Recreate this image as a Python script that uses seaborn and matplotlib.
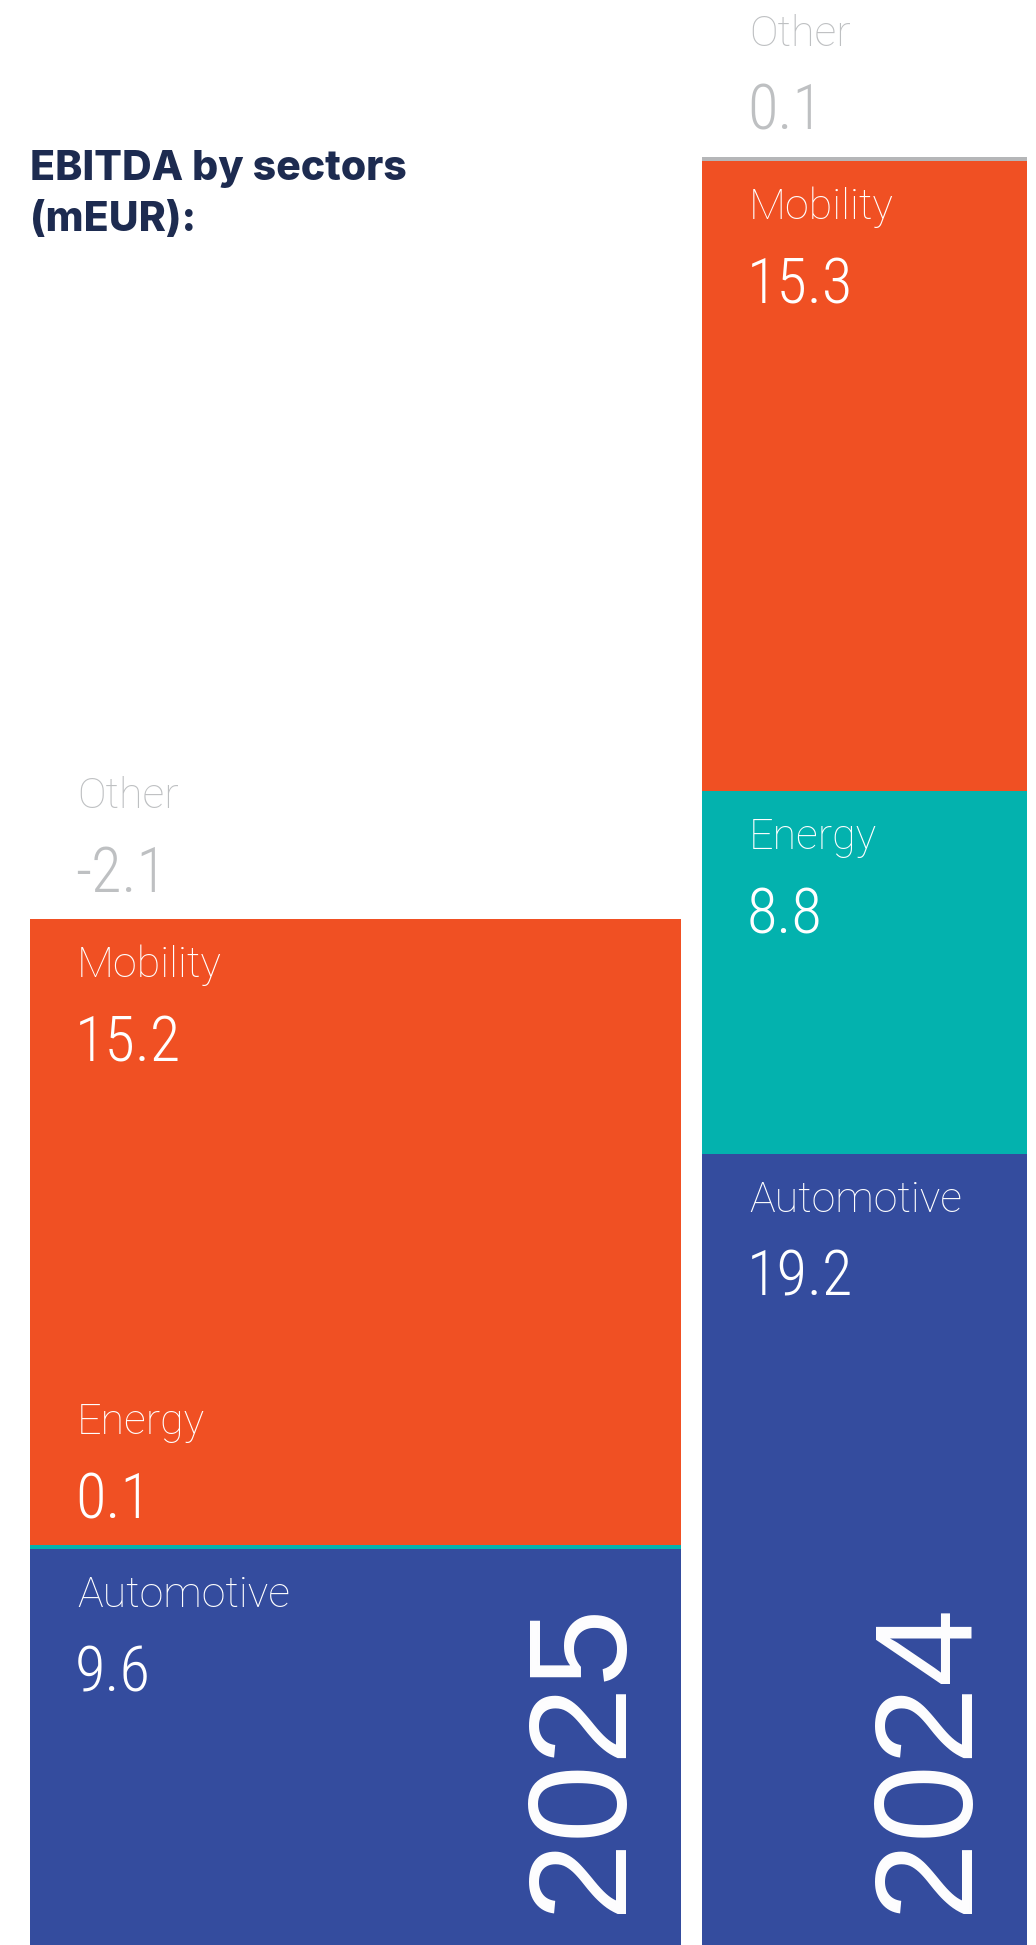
import numpy as np
import pandas as pd
import matplotlib
matplotlib.use("Agg")
import matplotlib.pyplot as plt
import seaborn as sns

# EBITDA by sector, mEUR
years = ["2025", "2024"]
sectors = ["Automotive", "Energy", "Mobility", "Other"]
automotive = [9.6, 19.2]
energy = [0.1, 8.8]
mobility = [15.2, 15.3]
other = [-2.1, 0.1]

sector_colors = ["#344C9E", "#03B2AE", "#F05023", "#B5B6B8"]
title_text = "EBITDA by sectors\n(mEUR):"

sns.set_theme(style="white")
plt.rcParams["font.family"] = ["Liberation Sans", "DejaVu Sans"]

W, H, DPI = 1036, 1945, 100
PX_PER_UNIT = 41.2

df = pd.DataFrame({"Automotive": automotive, "Energy": energy,
                   "Mobility": mobility, "Other": other}, index=years)
palette = dict(zip(sectors, sns.color_palette(sector_colors)))

fig = plt.figure(figsize=(W / DPI, H / DPI), dpi=DPI)
fig.patch.set_facecolor("white")
ax = fig.add_axes([0, 0, 1, 1])
ax.set_xlim(0, W)
ax.set_ylim(0, H / PX_PER_UNIT)
ax.axis("off")

# column geometry (pixels): left edge and width of each year's stack
bar_left = [30, 702]
bar_width = [651, 325]

LABEL_FONT = dict(family=["Roboto", "Liberation Sans", "DejaVu Sans"], weight="light", size=31)
VALUE_FONT = dict(family=["Roboto Condensed", "Liberation Sans Narrow", "Roboto", "DejaVu Sans"],
                  weight="light", size=45)
GREY_TEXT = "#BEC0C2"

for i, year in enumerate(years):
    bottom = 0.0
    for j, sector in enumerate(sectors):
        v = df.loc[year, sector]
        h = max(v, 0.0)
        ax.bar(bar_left[i], h, width=bar_width[i], bottom=bottom, align="edge",
               color=palette[sector], linewidth=0)
        top = bottom + h
        is_last = j == len(sectors) - 1
        thin = h * PX_PER_UNIT < 60
        if thin:
            name_dy, val_dy = 111, 27
            color = GREY_TEXT if is_last else "white"
        else:
            name_dy, val_dy = -58, -142
            color = "white"
        ax.annotate(sector, xy=(bar_left[i], top), xytext=(47, name_dy),
                    textcoords="offset pixels", ha="left", va="baseline",
                    color=color, **LABEL_FONT)
        ax.annotate(f"{v:.1f}", xy=(bar_left[i], top), xytext=(45, val_dy),
                    textcoords="offset pixels", ha="left", va="baseline",
                    color=color, **VALUE_FONT)
        bottom = top

    # year written vertically in the lower part of each column
    ax.annotate(year, xy=(bar_left[i] + bar_width[i], 0), xytext=(-61, 32),
                textcoords="offset pixels", rotation=90, rotation_mode="anchor",
                ha="left", va="baseline", color="white",
                family=["Liberation Sans", "DejaVu Sans"], size=101)

fig.text(30 / W, 1 - 150 / H, title_text, ha="left", va="top",
         color="#1D2B50", family=["Inter", "Lato", "DejaVu Sans"],
         weight="heavy", size=29.5, linespacing=1.42)

fig.savefig("out.png", dpi=DPI, facecolor="white")
